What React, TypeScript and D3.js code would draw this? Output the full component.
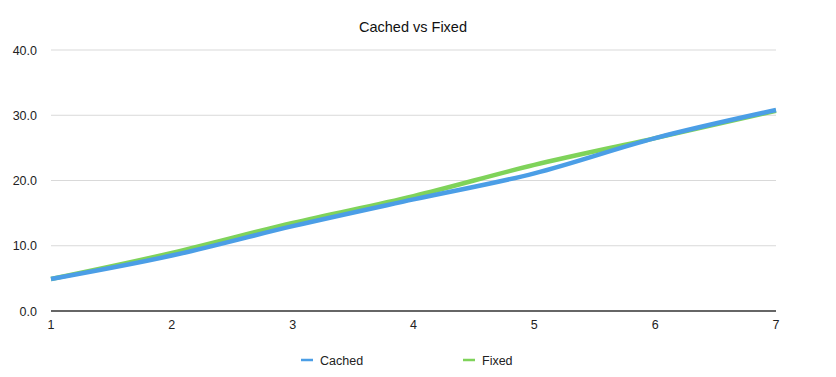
import React from "react";
import * as d3 from "d3";

const xValues = [1, 2, 3, 4, 5, 6, 7];
const cached = [4.9, 8.5, 13.0, 17.1, 21.1, 26.5, 30.8];
const fixed = [4.9, 8.9, 13.5, 17.6, 22.4, 26.5, 30.7];
const yTicks = [0, 10, 20, 30, 40];
const seriesNames = ["Cached", "Fixed"];
const colors = ["#4b9ee6", "#7fd35a"];

export default function App() {
  const W = 836, H = 377;
  const m = { left: 51, right: 60, top: 50, bottom: 66 };
  const x = d3.scaleLinear().domain([1, 7]).range([m.left, W - m.right]);
  const y = d3.scaleLinear().domain([0, 40]).range([H - m.bottom, m.top]);
  const line = d3
    .line<number>()
    .x((_, i) => x(xValues[i]))
    .y((d) => y(d))
    .curve(d3.curveMonotoneX);
  const font = "Helvetica, Arial, 'Liberation Sans', sans-serif";
  return (
    <svg
      width={W}
      height={H}
      style={{ position: "absolute", left: 0, top: 0, background: "#fff" }}
      fontFamily={font}
    >
      <text x={413} y={32} textAnchor="middle" fontSize={14.5} fill="#111">
        Cached vs Fixed
      </text>
      {yTicks.map((t) => (
        <g key={t}>
          {t !== 0 && (
            <line x1={x(1)} x2={x(7)} y1={y(t)} y2={y(t)} stroke="#d9d9d9" strokeWidth={1} />
          )}
          <text x={37} y={y(t) + 4.5} textAnchor="end" fontSize={12.5} fill="#222">
            {t.toFixed(1)}
          </text>
        </g>
      ))}
      {[fixed, cached].map((s, k) => (
        <path
          key={k}
          d={line(s) || ""}
          fill="none"
          stroke={k === 0 ? colors[1] : colors[0]}
          strokeWidth={4.5}
          strokeLinecap="butt"
          strokeLinejoin="round"
        />
      ))}
      <line x1={x(1)} x2={x(7)} y1={y(0)} y2={y(0)} stroke="#333" strokeWidth={1.5} />
      {xValues.map((v) => (
        <text key={v} x={x(v)} y={y(0) + 18} textAnchor="middle" fontSize={12.5} fill="#222">
          {v}
        </text>
      ))}
      {seriesNames.map((n, i) => {
        const lx = i === 0 ? 301 : 463;
        return (
          <g key={n}>
            <line x1={lx} x2={lx + 12} y1={360} y2={360} stroke={colors[i]} strokeWidth={2.5} />
            <text x={lx + 19} y={364.5} fontSize={12.5} fill="#222">
              {n}
            </text>
          </g>
        );
      })}
    </svg>
  );
}
